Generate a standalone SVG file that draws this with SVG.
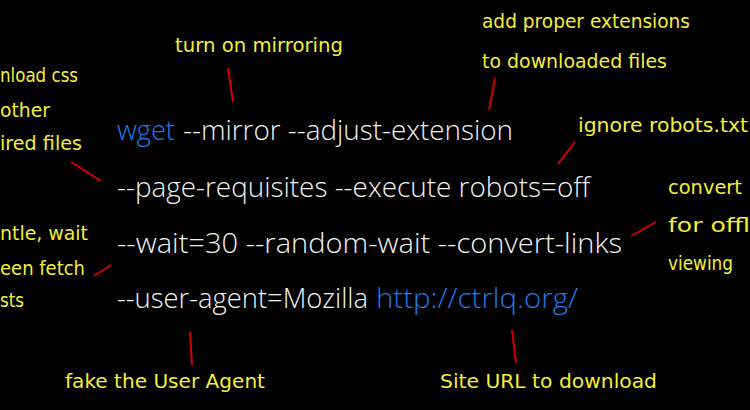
<svg xmlns="http://www.w3.org/2000/svg" width="750" height="410" viewBox="0 0 750 410">
<style>
.cmd{font-family:"Open Sans","Liberation Sans",sans-serif;font-size:28px;fill:#f2f2f2;font-weight:300}
.b{fill:#1f78e6}
.a{font-family:"DejaVu Sans",sans-serif;font-size:20px;fill:#f4ee3a}
.c{stroke:#d40000;stroke-width:2;fill:none}
</style>
<rect width="750" height="410" fill="#000"/>
<g id="command">
<text class="cmd" y="140"><tspan class="b" x="117" textLength="58" lengthAdjust="spacingAndGlyphs">wget</tspan><tspan x="183" textLength="330" lengthAdjust="spacingAndGlyphs">--mirror --adjust-extension</tspan></text>
<text class="cmd" x="117" y="197" textLength="473" lengthAdjust="spacingAndGlyphs">--page-requisites --execute robots=off</text>
<text class="cmd" x="117" y="253" textLength="505" lengthAdjust="spacingAndGlyphs">--wait=30 --random-wait --convert-links</text>
<text class="cmd" y="308"><tspan x="117" textLength="251" lengthAdjust="spacingAndGlyphs">--user-agent=Mozilla</tspan><tspan class="b" x="376" textLength="202" lengthAdjust="spacingAndGlyphs">http://ctrlq.org/</tspan></text>
</g>
<g id="n-mirror"><text class="a" x="175" y="52" textLength="168" lengthAdjust="spacingAndGlyphs">turn on mirroring</text></g>
<g id="n-ext"><text class="a" x="482" y="28" textLength="208" lengthAdjust="spacingAndGlyphs">add proper extensions</text><text class="a" x="482" y="68" textLength="185" lengthAdjust="spacingAndGlyphs">to downloaded files</text></g>
<g id="n-req"><text class="a" x="0" y="82" textLength="78" lengthAdjust="spacingAndGlyphs">nload css</text><text class="a" x="0" y="117" textLength="50" lengthAdjust="spacingAndGlyphs">other</text><text class="a" x="0" y="150" textLength="82" lengthAdjust="spacingAndGlyphs">ired files</text></g>
<g id="n-robots"><text class="a" x="578" y="132" textLength="170" lengthAdjust="spacingAndGlyphs">ignore robots.txt</text></g>
<g id="n-convert"><text class="a" x="668" y="194" textLength="74" lengthAdjust="spacingAndGlyphs">convert</text><text class="a" x="668" y="232" textLength="82" lengthAdjust="spacingAndGlyphs">for offl</text><text class="a" x="668" y="270" textLength="65" lengthAdjust="spacingAndGlyphs">viewing</text></g>
<g id="n-wait"><text class="a" x="0" y="240" textLength="88" lengthAdjust="spacingAndGlyphs">ntle, wait</text><text class="a" x="0" y="275" textLength="85" lengthAdjust="spacingAndGlyphs">een fetch</text><text class="a" x="0" y="307" textLength="24" lengthAdjust="spacingAndGlyphs">sts</text></g>
<g id="n-agent"><text class="a" x="65" y="388" textLength="200" lengthAdjust="spacingAndGlyphs">fake the User Agent</text></g>
<g id="n-url"><text class="a" x="440" y="388" textLength="217" lengthAdjust="spacingAndGlyphs">Site URL to download</text></g>
<g id="connectors">
<path class="c" d="M228 68L233 102"/>
<path class="c" d="M495 78L489 110"/>
<path class="c" d="M71 162L101 181"/>
<path class="c" d="M575 142L558 164"/>
<path class="c" d="M111 265L94 276"/>
<path class="c" d="M656 222L631 236"/>
<path class="c" d="M190 332L192 365"/>
<path class="c" d="M512 330L516 363"/>
</g>
</svg>
